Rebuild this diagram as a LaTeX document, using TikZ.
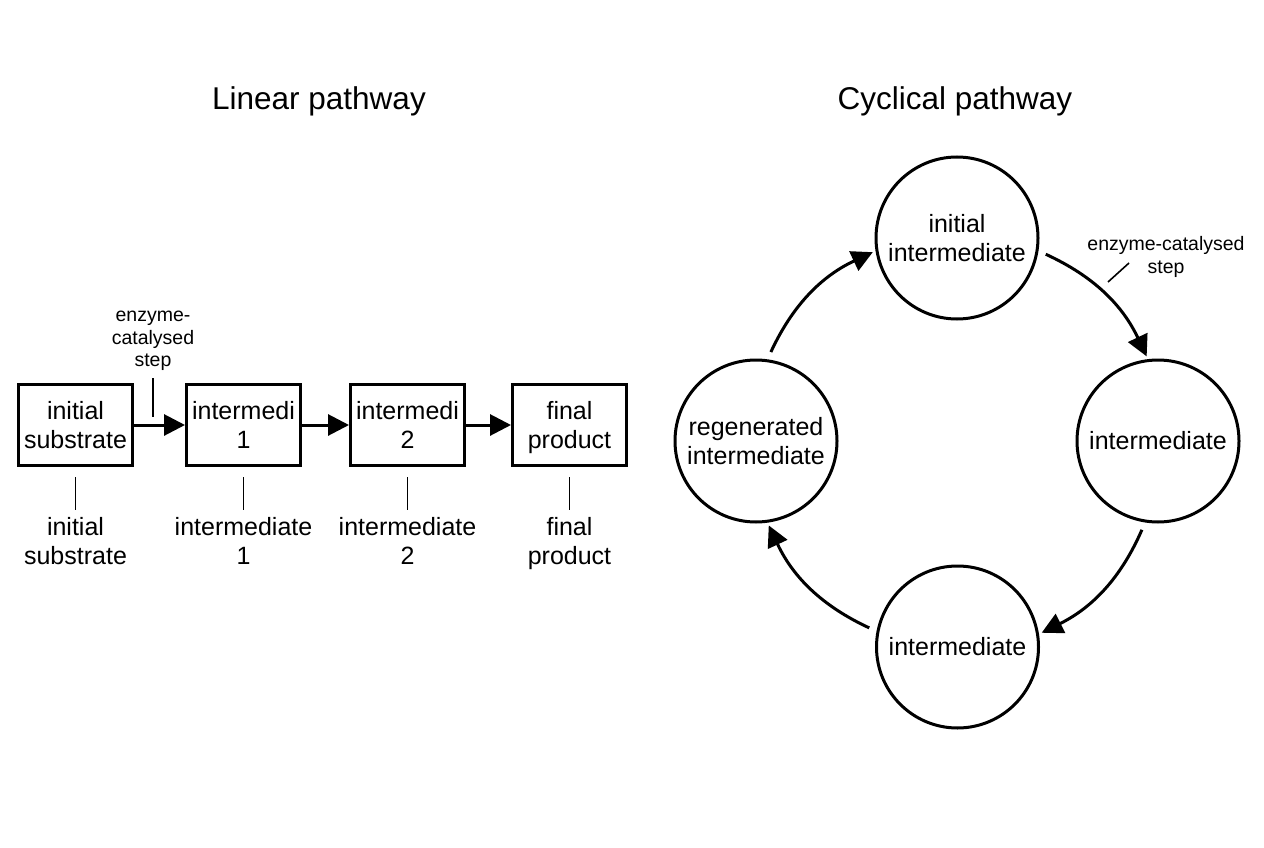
\documentclass[tikz,border=0pt]{standalone}
\usepackage{fontspec}
\setmainfont{Liberation Sans}
\usetikzlibrary{arrows.meta}
\newcommand\mysizemain{\fontsize{25}{29}\selectfont}
\newcommand\mysizesmall{\fontsize{19.5}{22.5}\selectfont}
\newcommand\mysizetitle{\fontsize{31.5}{36}\selectfont}
\begin{document}
\begin{tikzpicture}[x=1pt,y=1pt,
  box/.style={draw,line width=3pt,minimum width=114pt,minimum height=81pt,inner sep=0pt,align=center,font=\mysizemain},
  circ/.style={draw,circle,line width=3pt,minimum size=162pt,inner sep=0pt,align=center,font=\mysizemain},
  lbl/.style={align=center,inner sep=0pt,font=\mysizemain,anchor=north},
  smalllbl/.style={align=center,inner sep=0pt,font=\mysizesmall},
  ttl/.style={inner sep=0pt,font=\mysizetitle,anchor=base},
  arr/.style={line width=3pt,-{Triangle[length=21pt,width=21pt]}},
  thinline/.style={line width=1.6pt}]
\fill[white] (0,0) rectangle (1264,-848);
\useasboundingbox (0,0) rectangle (1264,-848);

% titles
\node[ttl] (t1) at (319,-110) {Linear pathway};
\node[ttl] (t2) at (955,-110) {Cyclical pathway};

% linear pathway
\node[box] (b1) at (75.5,-425) {initial\\substrate};
\node[box] (b2) at (243.5,-425) {intermedi\\1};
\node[box] (b3) at (407.5,-425) {intermedi\\2};
\node[box] (b4) at (569.5,-425) {final\\\raisebox{0pt}[\height][0pt]{product}};

\draw[arr] (b1) -- (b2);
\draw[arr] (b2) -- (b3);
\draw[arr] (b3) -- (b4);

\node[lbl] (l1) at (75.5,-517) {initial\\substrate};
\node[lbl] (l2) at (243.5,-517) {intermediate\\1};
\node[lbl] (l3) at (407.5,-517) {intermediate\\2};
\node[lbl] (l4) at (569.5,-517) {final\\product};

\draw[thinline] ([yshift=-10pt]b1.south) -- ([yshift=7pt]l1.north);
\draw[thinline] ([yshift=-10pt]b2.south) -- ([yshift=7pt]l2.north);
\draw[thinline] ([yshift=-10pt]b3.south) -- ([yshift=7pt]l3.north);
\draw[thinline] ([yshift=-10pt]b4.south) -- ([yshift=7pt]l4.north);

\node[smalllbl] (e1) at (153,-341) {enzyme-\\catalysed\\step};
\coordinate (p1a) at (153,-378);
\coordinate (p1b) at (153,-417);
\draw[thinline] (p1a) -- (p1b);

% cyclical pathway
\node[circ] (ctop) at (957,-238) {initial\\intermediate};
\node[circ] (cright) at (1158,-441) {intermediate};
\node[circ] (cbot) at (957.5,-647) {intermediate};
\node[circ] (cleft) at (756,-441) {regenerated\\intermediate};

\draw[arr,shorten <=8pt,shorten >=3pt] (ctop.-9) to[bend left=20] (cright.97);
\draw[arr,shorten <=8pt,shorten >=3pt] (cright.-99) to[bend left=20] (cbot.9);
\draw[arr,shorten <=8pt,shorten >=3pt] (cbot.169) to[bend left=20] (cleft.-82);
\draw[arr,shorten <=8pt,shorten >=3pt] (cleft.82) to[bend left=20] (ctop.189);

\node[smalllbl] (e2) at (1166,-257) {enzyme-catalysed\\step};
\coordinate (p2a) at (1108,-282);
\coordinate (p2b) at (1129,-263);
\draw[thinline] (p2a) -- (p2b);
\end{tikzpicture}
\end{document}
